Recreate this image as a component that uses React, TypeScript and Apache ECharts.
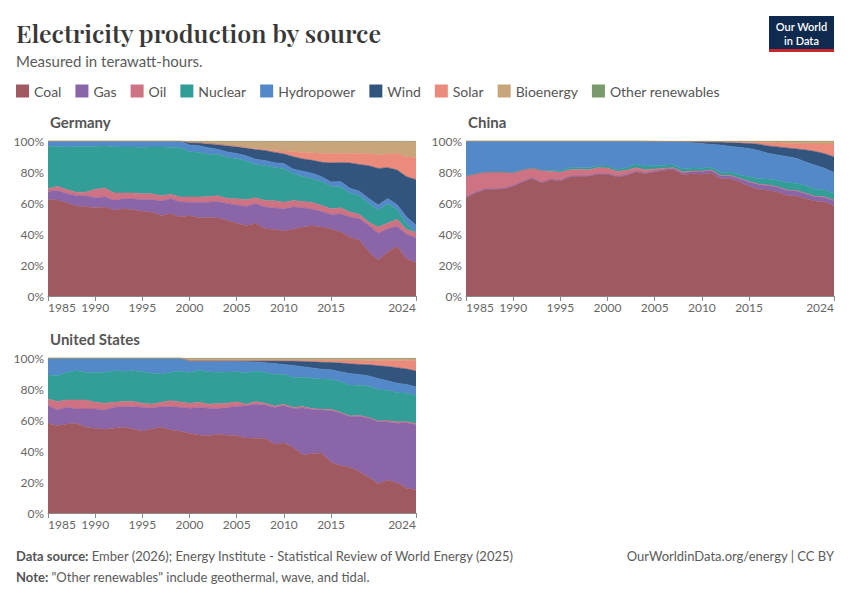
import React, { useEffect, useRef } from "react";
import * as echarts from "echarts";

const YEARS = [
  "1985", "1986", "1987", "1988", "1989", "1990", "1991", "1992", "1993", "1994",
  "1995", "1996", "1997", "1998", "1999", "2000", "2001", "2002", "2003", "2004",
  "2005", "2006", "2007", "2008", "2009", "2010", "2011", "2012", "2013", "2014",
  "2015", "2016", "2017", "2018", "2019", "2020", "2021", "2022", "2023", "2024",
];
const X_LABEL_YEARS = ["1985", "1990", "1995", "2000", "2005", "2010", "2015", "2024"];
const Y_TICKS = [0, 20, 40, 60, 80, 100];

const SOURCES = ["Coal", "Gas", "Oil", "Nuclear", "Hydropower", "Wind", "Solar", "Bioenergy", "Other renewables"];
const COLORS = ["#A05961", "#8A65A7", "#CD7384", "#339D98", "#5389C9", "#33547C", "#EA8B7B", "#C9A57B", "#799A6A"];

// Germany (% of electricity)
const deCoal = [62.2, 62, 60, 58, 57.6, 57, 57.4, 55.3, 56.3, 55.7, 54.6, 54, 52, 53, 51, 51.8, 50.5, 50.7, 50.3, 48.8, 47, 45.6, 46.9, 43.4, 43, 42, 43.2, 44.5, 45.4, 44.5, 43.2, 41.3, 38, 36, 28.4, 23.4, 28.4, 32, 24, 21.5];
const deGas = [5.3, 6, 6, 6.7, 7.1, 6.4, 6.5, 6.4, 6.5, 6.9, 7.6, 8.2, 9.3, 9.8, 9.6, 8.8, 9.9, 9.9, 10.7, 10.8, 11.7, 12.2, 12.7, 14, 13.8, 14.3, 14.2, 12.5, 10.7, 10.1, 9.5, 11.7, 13, 13.9, 17.2, 17.2, 15, 13, 15.8, 16];
const deOil = [1.7, 2.8, 2.6, 2.2, 2.3, 5.4, 5.8, 4.8, 3.7, 3.9, 3.8, 3.8, 3.4, 2.8, 3.3, 3.3, 3.5, 3.6, 3.7, 3.4, 4.1, 4.4, 3.8, 4.3, 4.7, 4.3, 4.3, 4, 4.3, 3.9, 3.6, 4, 3.2, 2.8, 2.1, 3.9, 3.7, 4.5, 3.2, 3.5];
const deNuclear = [27.4, 25.6, 27.6, 29.5, 29.5, 27.8, 27.1, 29.8, 29.7, 29.6, 30, 30.2, 31.5, 30.4, 31.8, 29.2, 29, 27.3, 26.8, 26.5, 26, 25, 21.6, 22.5, 21.5, 21.6, 17.3, 16.1, 15.3, 15.4, 14.4, 13.6, 12.3, 12, 12, 11, 12.4, 6.4, 3.8, 0];
const deHydro = [3.4, 3.6, 3.8, 3.6, 3.5, 3.4, 3.2, 3.7, 3.8, 3.9, 4, 3.8, 3.8, 4, 4.3, 4.4, 4.2, 4.2, 3.2, 3.5, 3.2, 3.3, 3.3, 3.3, 3.1, 3.3, 2.9, 3.5, 3.6, 3.1, 3, 3.3, 3.1, 2.9, 3.2, 3.3, 3.4, 3.1, 4.2, 4.8];
const deWind = [0, 0, 0, 0, 0, 0, 0, 0, 0, 0, 0, 0, 0, 0, 0, 1.6, 1.8, 2.7, 3.1, 4.1, 4.4, 5, 6.3, 6.4, 6.6, 6.2, 8, 7.9, 8.3, 9.3, 12.2, 12.2, 16.3, 17.3, 21.2, 23.5, 20, 22.3, 26, 29.3];
const deSolar = [0, 0, 0, 0, 0, 0, 0, 0, 0, 0, 0, 0, 0, 0, 0, 0, 0, 0, 0, 0.1, 0.2, 0.3, 0.5, 0.7, 1.1, 1.9, 3.2, 4.2, 4.9, 5.7, 6, 5.9, 6.1, 7.2, 7.7, 8.9, 8.8, 10.6, 12.9, 14.4];
const deBio = [0, 0, 0, 0, 0, 0, 0, 0, 0, 0, 0, 0, 0, 0, 0, 0.9, 1.1, 1.6, 2.2, 2.8, 3.4, 4.2, 4.9, 5.4, 6.2, 6.4, 6.9, 7.3, 7.5, 8, 8.1, 8, 8, 7.9, 8.2, 8.8, 8.3, 8.1, 10.1, 10.5];
const deOther = [0, 0, 0, 0, 0, 0, 0, 0, 0, 0, 0, 0, 0, 0, 0, 0.1, 0.1, 0.1, 0.1, 0.1, 0.1, 0.1, 0.1, 0.1, 0.1, 0.1, 0.1, 0.1, 0.1, 0.1, 0.1, 0.1, 0.1, 0.1, 0.1, 0.1, 0.1, 0.1, 0.1, 0.1];

// China
const cnCoal = [63.4, 66.5, 68.6, 68.8, 69, 70.8, 73.5, 75.7, 72.9, 75, 74.2, 76.8, 77.2, 77.2, 78.5, 78.5, 76.8, 77.8, 80, 78.9, 80, 81.1, 81.5, 78.3, 78.9, 78.5, 79.4, 75.7, 75.7, 73.5, 70.8, 68.8, 68.2, 67.1, 64.9, 64.5, 62.8, 61.3, 60.6, 58];
const cnGas = [0.4, 0.4, 0.4, 0.4, 0.4, 0.4, 0.4, 0.4, 0.4, 0.4, 0.4, 0.4, 0.4, 0.4, 0.4, 0.4, 0.4, 0.4, 0.4, 0.5, 0.5, 0.6, 0.8, 0.9, 1.4, 1.8, 1.7, 1.7, 1.9, 2.1, 2.8, 3.1, 3.1, 3.1, 3.2, 3.3, 3.2, 2.7, 3.1, 3.4];
const cnOil = [13.6, 12, 11, 10.8, 10.6, 8.4, 7.6, 6.5, 7.8, 5, 5.2, 4.3, 4.1, 3.9, 3.9, 3.7, 3.2, 2.9, 2.4, 2.1, 1.5, 0.8, 0.5, 0.8, 0.4, 0.3, 0.3, 0.3, 0.3, 0.3, 0.3, 0.3, 0.3, 0.3, 0.3, 0.3, 0.3, 0.3, 0.3, 0.3];
const cnNuclear = [0, 0, 0, 0, 0, 0, 0, 0, 0, 0.8, 1.2, 1.3, 1.2, 1.2, 1.2, 1.2, 1.2, 1.6, 2.3, 2.3, 2.1, 1.9, 1.9, 1.9, 1.9, 1.8, 1.8, 2, 2.1, 2.3, 3, 3.5, 3.9, 4.2, 4.6, 4.7, 4.8, 4.7, 4.6, 4.5];
const cnHydro = [22.6, 21.1, 20, 20, 20, 20.4, 18.5, 17.4, 18.9, 18.8, 19, 17.2, 17.1, 17.3, 16, 16.2, 18.4, 17.3, 14.9, 16.1, 15.7, 15.2, 14.8, 17.4, 16.3, 16, 14.6, 17.7, 16.5, 17.7, 18.3, 18.2, 16.6, 16.3, 17, 16, 15.3, 15.4, 13.8, 13.5];
const cnWind = [0, 0, 0, 0, 0, 0, 0, 0, 0, 0, 0, 0, 0, 0, 0, 0, 0, 0, 0, 0, 0, 0.1, 0.2, 0.4, 0.7, 1.1, 1.5, 1.9, 2.6, 2.8, 3.2, 4, 4.7, 5.2, 5.5, 6.1, 7.8, 8.8, 9.4, 10];
const cnSolar = [0, 0, 0, 0, 0, 0, 0, 0, 0, 0, 0, 0, 0, 0, 0, 0, 0, 0, 0, 0, 0, 0, 0, 0, 0, 0, 0.1, 0.1, 0.2, 0.5, 0.7, 1.1, 2, 2.5, 3, 3.4, 3.9, 4.8, 6.2, 8.3];
const cnBio = [0, 0, 0, 0, 0, 0, 0, 0, 0, 0, 0, 0, 0, 0, 0, 0, 0, 0, 0, 0.1, 0.2, 0.3, 0.3, 0.3, 0.4, 0.5, 0.6, 0.6, 0.7, 0.8, 0.9, 1, 1.2, 1.3, 1.5, 1.7, 1.9, 2, 2, 2];
const cnOther = [0, 0, 0, 0, 0, 0, 0, 0, 0, 0, 0, 0, 0, 0, 0, 0, 0, 0, 0, 0, 0, 0, 0, 0, 0, 0, 0, 0, 0, 0, 0, 0, 0, 0, 0, 0, 0, 0, 0, 0];

// United States
const usCoal = [57.8, 56.3, 57.4, 57.8, 55.3, 54.6, 54, 54.6, 55.3, 54.2, 52.7, 54.2, 55.3, 53.5, 52.7, 51.4, 50.5, 50.3, 51, 50.3, 49.9, 48.8, 48.4, 48.2, 44.5, 44.9, 42.4, 37.4, 38.5, 38.7, 32.7, 30.5, 29.5, 26.9, 23, 19.1, 21.3, 19.8, 16.1, 15.1];
const usGas = [11.4, 10.2, 10.8, 9.3, 11.8, 12.5, 12.5, 13.6, 13.3, 14.4, 15.5, 13.5, 13.3, 15.1, 15.5, 16.3, 17.7, 17.9, 16.7, 17.9, 18.9, 20.9, 21.9, 21.5, 23.7, 23.9, 25.1, 30.3, 28.4, 27.8, 33.3, 34, 32.9, 35.9, 38.3, 40.5, 37.8, 39.1, 42.4, 42.3];
const usOil = [4.3, 5.5, 4.7, 5.8, 5.8, 4.3, 4.3, 3.2, 3.4, 3.4, 2.6, 2.6, 2.8, 3.9, 3.4, 3.1, 3.4, 2.6, 3.3, 2.8, 3, 1.1, 1.7, 1.1, 1, 1, 0.7, 0.9, 0.6, 0.4, 0.7, 0.5, 0.4, 0.4, 0.4, 0.6, 0.9, 0.9, 0.6, 0.7];
const usNuclear = [15.5, 16.6, 17.9, 18.9, 17.9, 19.4, 20, 20.4, 19.4, 19.8, 20.4, 19.8, 18.3, 18.3, 19.8, 20, 20.7, 21, 20.2, 20.2, 19.4, 20.4, 19.8, 20, 20.5, 19.2, 19.3, 18.9, 19.6, 19.6, 19.3, 19.7, 20, 19.6, 20.2, 20.4, 19.8, 19.1, 18.5, 18];
const usHydro = [11, 11.4, 9.2, 8.2, 9.2, 9.2, 9.2, 8.2, 8.6, 8.2, 8.8, 9.9, 10.3, 9.2, 8.6, 7.2, 5.8, 6.8, 7.1, 6.8, 6.7, 7.1, 5.8, 6.2, 6.9, 6.3, 7.9, 6.8, 6.6, 6.3, 6.1, 6.5, 7.4, 7, 6.6, 7.2, 6.1, 6.1, 5.7, 5.7];
const usWind = [0, 0, 0, 0, 0, 0, 0, 0, 0, 0, 0, 0, 0, 0, 0, 0.1, 0.2, 0.3, 0.3, 0.4, 0.4, 0.7, 0.8, 1.3, 1.8, 2.3, 2.9, 3.5, 4.1, 4.4, 4.7, 5.6, 6.3, 6.5, 7.2, 8.4, 9.2, 10.2, 10, 10.3];
const usSolar = [0, 0, 0, 0, 0, 0, 0, 0, 0, 0, 0, 0, 0, 0, 0, 0, 0, 0, 0, 0, 0, 0, 0, 0, 0, 0.1, 0.1, 0.3, 0.5, 0.8, 0.9, 1.4, 1.9, 2.3, 2.6, 3.3, 3.9, 4.7, 5.5, 6.9];
const usBio = [0, 0, 0, 0, 0, 0, 0, 0, 0, 0, 0, 0, 0, 0, 0, 1.6, 1.5, 1.5, 1.5, 1.4, 1.4, 1.4, 1.4, 1.4, 1.4, 1.4, 1.4, 1.4, 1.5, 1.6, 1.6, 1.5, 1.5, 1.5, 1.4, 1.4, 1.3, 1.3, 1.2, 1.2];
const usOther = [0, 0, 0, 0, 0, 0, 0, 0, 0, 0, 0, 0, 0, 0, 0, 0.4, 0.4, 0.4, 0.4, 0.4, 0.4, 0.4, 0.4, 0.4, 0.4, 0.4, 0.4, 0.4, 0.4, 0.4, 0.4, 0.4, 0.4, 0.4, 0.4, 0.4, 0.4, 0.4, 0.4, 0.4];

const COUNTRIES = [
  { name: "Germany", rows: [deCoal, deGas, deOil, deNuclear, deHydro, deWind, deSolar, deBio, deOther] },
  { name: "China", rows: [cnCoal, cnGas, cnOil, cnNuclear, cnHydro, cnWind, cnSolar, cnBio, cnOther] },
  { name: "United States", rows: [usCoal, usGas, usOil, usNuclear, usHydro, usWind, usSolar, usBio, usOther] },
];

const PANELS = [
  { left: 48, top: 141, width: 368, height: 155 },
  { left: 466, top: 141, width: 368, height: 155 },
  { left: 48, top: 358, width: 368, height: 155 },
];

const FONT = "Lato, 'Noto Sans', sans-serif";

function toShares(rows: number[][]) {
  const totals = rows[0].map((_, i) => rows.reduce((s, r) => s + r[i], 0));
  return rows.map((r) => r.map((v, i) => (totals[i] > 0 ? (v / totals[i]) * 100 : 0)));
}

export default function App() {
  const ref = useRef<HTMLDivElement>(null);
  useEffect(() => {
    if (!ref.current) return;
    const chart = echarts.init(ref.current, null, { renderer: "svg" });
    const showLabel = (_i: number, v: string) => X_LABEL_YEARS.includes(v);

    const grid = PANELS.map((p) => ({ ...p, containLabel: false }));
    const xAxis = PANELS.map((_, i) => ({
      type: "category",
      gridIndex: i,
      data: YEARS,
      boundaryGap: false,
      axisLine: { show: true, lineStyle: { color: "#8a8a8a", width: 1 } },
      axisTick: { show: true, interval: showLabel, length: 5, lineStyle: { color: "#8a8a8a" } },
      axisLabel: {
        interval: showLabel,
        fontFamily: FONT,
        fontSize: 12,
        color: "#666",
        margin: 5,
        alignMinLabel: "left",
        alignMaxLabel: "right",
      },
      splitLine: { show: false },
    }));
    const yAxis = PANELS.map((_, i) => ({
      type: "value",
      gridIndex: i,
      min: Y_TICKS[0],
      max: Y_TICKS[Y_TICKS.length - 1],
      interval: 20,
      axisLine: { show: false },
      axisTick: { show: false },
      axisLabel: { formatter: "{value}%", fontFamily: FONT, fontSize: 12, color: "#666", margin: 4 },
      splitLine: { show: true, lineStyle: { color: "#ddd", type: "dashed" } },
    }));

    const series: any[] = [];
    COUNTRIES.forEach((c, ci) => {
      const shares = toShares(c.rows);
      shares.forEach((data, si) => {
        series.push({
          type: "line",
          name: SOURCES[si],
          xAxisIndex: ci,
          yAxisIndex: ci,
          stack: "stack" + ci,
          data,
          color: COLORS[si],
          symbol: "none",
          showSymbol: false,
          silent: true,
          lineStyle: { width: 0.6, color: COLORS[si] },
          areaStyle: { color: COLORS[si], opacity: 1 },
          emphasis: { disabled: true },
        });
      });
    });

    const graphic: any[] = [
      {
        type: "text",
        x: 16,
        y: 32,
        style: {
          text: "Electricity production by source",
          fontFamily: "'Playfair Display', 'Liberation Serif', 'DejaVu Serif', serif",
          fontSize: 25,
          fontWeight: 600,
          fill: "#383838",
          verticalAlign: "middle",
        },
      },
      {
        type: "text",
        x: 16,
        y: 61,
        style: { text: "Measured in terawatt-hours.", fontFamily: FONT, fontSize: 15, fill: "#5b5b5b", verticalAlign: "middle" },
      },
      ...COUNTRIES.map((c, i) => ({
        type: "text",
        x: PANELS[i].left + 2,
        y: PANELS[i].top - 19,
        style: { text: c.name, fontFamily: FONT, fontSize: 15, fontWeight: "bold", fill: "#555", verticalAlign: "middle" },
      })),
      { type: "rect", shape: { x: 769, y: 16, width: 65, height: 36 }, style: { fill: "#0f2a4f" } },
      { type: "rect", shape: { x: 769, y: 49, width: 65, height: 3 }, style: { fill: "#c8262b" } },
      {
        type: "text",
        x: 801.5,
        y: 26.5,
        style: { text: "Our World", fontFamily: FONT, fontSize: 11, fontWeight: 600, fill: "#fff", align: "center", verticalAlign: "middle" },
      },
      {
        type: "text",
        x: 801.5,
        y: 40,
        style: { text: "in Data", fontFamily: FONT, fontSize: 11, fontWeight: 600, fill: "#fff", align: "center", verticalAlign: "middle" },
      },
      {
        type: "text",
        x: 16,
        y: 556,
        style: {
          text: "{b|Data source:} Ember (2026); Energy Institute - Statistical Review of World Energy (2025)",
          fontFamily: FONT,
          fontSize: 13,
          fill: "#5b5b5b",
          verticalAlign: "middle",
          rich: { b: { fontFamily: FONT, fontSize: 13, fontWeight: "bold", fill: "#555" } },
        },
      },
      {
        type: "text",
        x: 16,
        y: 577,
        style: {
          text: '{b|Note:} "Other renewables" include geothermal, wave, and tidal.',
          fontFamily: FONT,
          fontSize: 13,
          fill: "#5b5b5b",
          verticalAlign: "middle",
          rich: { b: { fontFamily: FONT, fontSize: 13, fontWeight: "bold", fill: "#555" } },
        },
      },
      {
        type: "text",
        x: 834,
        y: 556,
        style: {
          text: "OurWorldinData.org/energy | CC BY",
          fontFamily: FONT,
          fontSize: 13,
          fill: "#5b5b5b",
          align: "right",
          verticalAlign: "middle",
        },
      },
    ];

    chart.setOption({
      animation: false,
      backgroundColor: "#fff",
      legend: {
        data: SOURCES,
        left: 16,
        top: 84,
        padding: 0,
        itemWidth: 13,
        itemHeight: 13,
        itemGap: 14,
        icon: "rect",
        selectedMode: false,
        textStyle: { fontFamily: FONT, fontSize: 14, color: "#555" },
      },
      grid,
      xAxis,
      yAxis,
      series,
      graphic,
    });
    return () => chart.dispose();
  }, []);
  return <div ref={ref} style={{ position: "absolute", left: 0, top: 0, width: 850, height: 600 }} />;
}
